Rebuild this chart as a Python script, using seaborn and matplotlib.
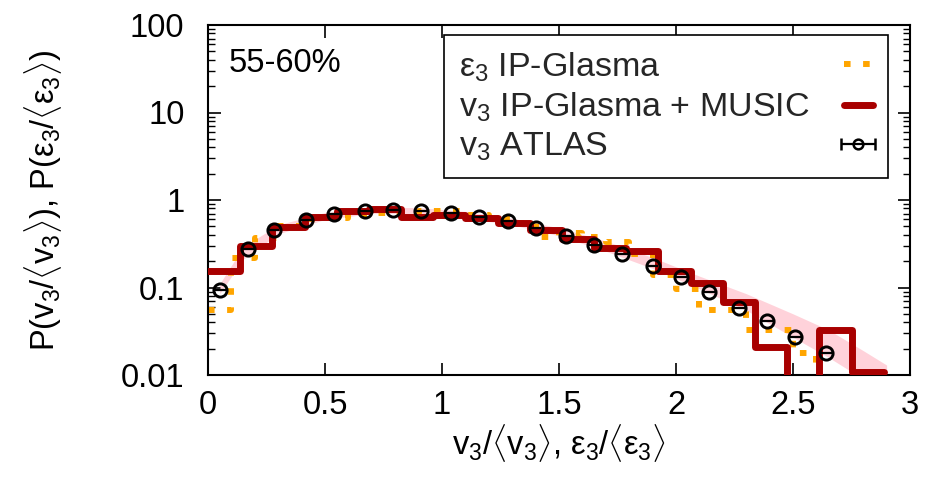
import matplotlib
matplotlib.use("Agg")
import numpy as np
import matplotlib.pyplot as plt
import seaborn as sns
import pandas as pd
from matplotlib.ticker import FixedLocator, FixedFormatter, LogLocator, NullFormatter
from matplotlib.lines import Line2D

# ATLAS measurement, 55-60% centrality
atlas_x = [0.05, 0.17, 0.28, 0.42, 0.54, 0.67, 0.79, 0.91, 1.04, 1.16, 1.28,
           1.40, 1.53, 1.65, 1.77, 1.90, 2.02, 2.14, 2.27, 2.39, 2.51, 2.64]
atlas_y = [0.094, 0.275, 0.45, 0.585, 0.69, 0.75, 0.77, 0.75, 0.71, 0.64, 0.575,
           0.48, 0.39, 0.31, 0.24, 0.176, 0.132, 0.090, 0.059, 0.041, 0.027, 0.018]
atlas_xerr = 0.025

# v3 IP-Glasma + MUSIC histogram
red_edges = [0.0, 0.1375, 0.275, 0.4125, 0.55, 0.6875, 0.825, 0.9625, 1.1, 1.2375,
             1.375, 1.5125, 1.65, 1.7875, 1.925, 2.0625, 2.2, 2.3375, 2.475,
             2.6125, 2.75, 2.8875]
red_vals = [0.155, 0.30, 0.49, 0.64, 0.75, 0.78, 0.64, 0.67, 0.62, 0.545, 0.45,
            0.36, 0.28, 0.26, 0.155, 0.113, 0.068, 0.021, 0.004, 0.0327, 0.0108]

# eps3 IP-Glasma histogram
eps_edges = [0.0, 0.1, 0.2, 0.3, 0.4, 0.5, 0.6, 0.7, 0.8, 0.9, 1.0, 1.1, 1.2, 1.3,
             1.4, 1.5, 1.6, 1.7, 1.8, 1.9, 2.0, 2.1, 2.2, 2.3, 2.4, 2.5, 2.6, 2.7]
eps_vals = [0.055, 0.22, 0.37, 0.50, 0.60, 0.62, 0.70, 0.71, 0.72, 0.74, 0.75,
            0.68, 0.62, 0.55, 0.38, 0.42, 0.38, 0.33, 0.24, 0.14, 0.095, 0.055,
            0.055, 0.033, 0.033, 0.018, 0.004]

# uncertainty band of the hydro result
band_x = [0.05, 0.15, 0.30, 0.50, 0.70, 0.90, 1.10, 1.30, 1.50, 1.70, 1.90,
          2.10, 2.30, 2.50, 2.65, 2.80, 2.90]
band_hi = [0.11, 0.29, 0.52, 0.72, 0.82, 0.82, 0.74, 0.62, 0.48, 0.34, 0.22,
           0.135, 0.085, 0.050, 0.033, 0.019, 0.013]
band_lo = [0.085, 0.21, 0.41, 0.60, 0.70, 0.70, 0.62, 0.52, 0.39, 0.26, 0.165,
           0.097, 0.055, 0.027, 0.016, 0.009, 0.006]

x_ticks = [0, 0.5, 1, 1.5, 2, 2.5, 3]
x_labels = ["0", "0.5", "1", "1.5", "2", "2.5", "3"]
y_ticks = [0.01, 0.1, 1, 10, 100]
y_labels = ["0.01", "0.1", "1", "10", "100"]

sns.set_theme(style="ticks")
plt.rcParams.update({
    "font.family": ["Liberation Sans", "DejaVu Sans"],
    "mathtext.fontset": "custom",
    "mathtext.rm": "Liberation Sans",
    "mathtext.it": "Liberation Sans",
    "mathtext.sf": "Liberation Sans",
    "mathtext.bf": "Liberation Sans:bold",
    "axes.edgecolor": "black",
    "axes.linewidth": 1.5,
})

FS = 23.5
LEG_FS = 24.5

fig = plt.figure(figsize=(9.3, 4.8), dpi=100)
ax = fig.add_axes([208 / 930, 105 / 480, 702 / 930, 350 / 480])

eps_df = pd.DataFrame({"x": eps_edges, "p": eps_vals + eps_vals[-1:]})
red_df = pd.DataFrame({"x": red_edges, "p": red_vals + red_vals[-1:]})

ax.fill_between(band_x, band_lo, band_hi, color="#ffc0cb", alpha=0.7,
                linewidth=0, zorder=1)

sns.lineplot(data=eps_df, x="x", y="p", ax=ax, drawstyle="steps-post",
             estimator=None, sort=False, color="#ffa500", linewidth=4.3,
             linestyle=(0, (1.1, 2.1)), dash_capstyle="butt", zorder=2)
sns.lineplot(data=red_df, x="x", y="p", ax=ax, drawstyle="steps-post",
             estimator=None, sort=False, color="#a80000", linewidth=5,
             zorder=3)
ax.errorbar(atlas_x, atlas_y, xerr=atlas_xerr, fmt="o", ms=9.5, mfc="none",
            mec="black", mew=2.1, ecolor="black", elinewidth=1.6, capsize=0,
            color="black", zorder=4)
# legend key for the ATLAS points (with end caps)
atlas_key = ax.errorbar([np.nan], [np.nan], xerr=[0.1], fmt="o", ms=7, mfc="none",
                        mec="black", mew=1.8, ecolor="black", elinewidth=1.6,
                        capsize=4, capthick=1.6, color="black")

ax.set_yscale("log")
ax.set_xlim(0, 3)
ax.set_ylim(0.01, 100)

ax.xaxis.set_major_locator(FixedLocator(x_ticks))
ax.xaxis.set_major_formatter(FixedFormatter(x_labels))
ax.yaxis.set_major_locator(FixedLocator(y_ticks))
ax.yaxis.set_major_formatter(FixedFormatter(y_labels))
ax.yaxis.set_minor_locator(LogLocator(base=10, subs=range(2, 10)))
ax.yaxis.set_minor_formatter(NullFormatter())

ax.tick_params(which="both", direction="in", top=True, right=True,
               color="black", labelcolor="black")
ax.tick_params(which="major", length=9, width=1.2, labelsize=FS)
ax.tick_params(which="minor", length=5, width=1.0)
ax.tick_params(axis="y", which="major", pad=17)
ax.tick_params(axis="x", which="major", pad=11)
for s in ax.spines.values():
    s.set_visible(True)
    s.set_color("black")
    s.set_linewidth(1.5)

ax.set_xlabel(r"v$_3$/$\langle$v$_3\rangle$, $\varepsilon_3$/$\langle\varepsilon_3\rangle$",
              fontsize=FS, color="black")
ax.set_ylabel(r"P(v$_3$/$\langle$v$_3\rangle$), P($\varepsilon_3$/$\langle\varepsilon_3\rangle$)",
              fontsize=FS, color="black")
ax.xaxis.set_label_coords(0.5, -0.135)
ax.yaxis.set_label_coords(-0.205, 0.5)

ax.text(0.03, 0.866, "55-60%", transform=ax.transAxes, fontsize=FS,
        va="baseline", ha="left", color="black")

handles = [
    Line2D([], [], color="#ffa500", linewidth=4.3, linestyle=(0, (1.1, 2.1)),
           dash_capstyle="butt"),
    Line2D([], [], color="#a80000", linewidth=5),
    atlas_key,
]
labels = [r"$\varepsilon_3$ IP-Glasma", r"v$_3$ IP-Glasma + MUSIC", r"v$_3$ ATLAS"]
leg = ax.legend(handles, labels, loc="upper right",
                bbox_to_anchor=((888 - 208) / 702, (375 - 35) / 350),
                bbox_transform=ax.transAxes, fontsize=LEG_FS, markerfirst=False,
                frameon=True, fancybox=False, framealpha=1, edgecolor="black",
                borderpad=0.45, labelspacing=0.2, handlelength=0.85,
                handletextpad=1.0, borderaxespad=0)
leg.get_frame().set_linewidth(1.2)

# left-align the legend texts while keeping the keys in a right-hand column
fig.canvas.draw()
renderer = fig.canvas.get_renderer()
column = leg._legend_handle_box.get_children()[0]
column.align = "left"
text_w = [t.get_window_extent(renderer).width for t in leg.get_texts()]
w_max = max(text_w)
for item, w in zip(column.get_children(), text_w):
    item.sep += (w_max - w) * 72.0 / fig.dpi

fig.savefig("out.png", dpi=100, facecolor="white")
